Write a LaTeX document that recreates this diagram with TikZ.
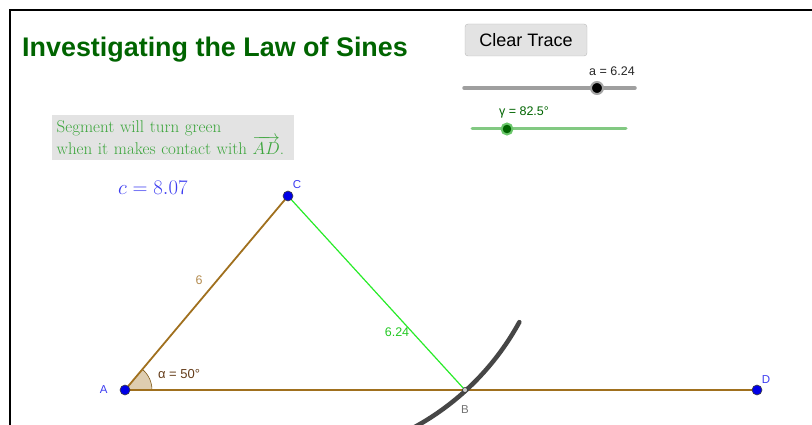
\documentclass[tikz,border=0pt]{standalone}
\usepackage{fontspec}
\newfontfamily\ggb{Liberation Sans}
\usepackage{amsmath}
\usetikzlibrary{positioning}
\definecolor{titlegreen}{RGB}{0,100,0}
\definecolor{notegreen}{RGB}{60,165,60}
\definecolor{ptblue}{RGB}{0,0,230}
\definecolor{lblblue}{RGB}{60,60,240}
\definecolor{segbrown}{RGB}{160,112,30}
\definecolor{lenbrown}{RGB}{180,140,80}
\definecolor{anglebrown}{RGB}{100,60,25}
\definecolor{seggreen}{RGB}{40,235,40}
\definecolor{tracegray}{RGB}{70,70,70}

\begin{document}
\begin{tikzpicture}[
  x=1pt, y=-1pt,
  ui/.style={font=\ggb\fontsize{#1}{#1}\selectfont},
  pt/.style={circle, fill=ptblue, draw=black!75, line width=0.6pt, inner sep=0pt, minimum size=10pt},
  ptlabel/.style={ui=11.5, text=lblblue, inner sep=1pt},
  seg/.style={draw=segbrown, line width=1.8pt},
  button/.style={draw=gray!55, fill=gray!22, rounded corners=3pt, minimum width=122pt, minimum height=32pt, ui=18}
]
\useasboundingbox (0,0) rectangle (812,425);
\draw[line width=2.5pt] (10,440) -- (10,10) -- (830,10);

\node[anchor=base west, text=titlegreen, font=\ggb\bfseries\fontsize{26.9}{30}\selectfont, inner sep=0pt] (title) at (22,57) {Investigating the Law of Sines};
\node[button] (clear) at (526,40) {Clear Trace};

\coordinate (a0) at (464,88);
\coordinate (a1) at (635,88);
\draw[gray!75, line width=3.5pt, line cap=round] (a0) -- (a1);
\node[circle, fill=black, draw=gray!70, line width=2pt, minimum size=12pt, inner sep=0pt] (aknob) at (597,88) {};
\node[ui=12.5, text=black!85] (alabel) at (612,71) {a = 6.24};

\coordinate (g0) at (472,129);
\coordinate (g1) at (626,129);
\draw[green!40!gray!70, line width=3pt, line cap=round] (g0) -- (g1);
\node[circle, fill=titlegreen, draw=green!45!gray!80, line width=2pt, minimum size=11pt, inner sep=0pt] (gknob) at (507,129) {};
\node[ui=12.5, text=titlegreen] (glabel) at (524,112) {γ = 82.5°};

\node[anchor=north west, fill=gray!22, text=notegreen, align=left, text width=233pt, font=\fontsize{17}{22}\selectfont, inner xsep=4.5pt, inner ysep=2pt, minimum height=45pt] (note) at (52,115) {Segment will turn green\\when it makes contact with $\overrightarrow{AD}$.};
\node[anchor=base west, text=lblblue, font=\fontsize{21}{24}\selectfont, inner sep=0pt] (cval) at (118,195) {$c = 8.07$};

\coordinate (A) at (125,390);
\coordinate (C) at (288,196);
\coordinate (B) at (465,390);
\coordinate (D) at (757,390);

\fill[segbrown!35!white] (A) -- ++(0:27) arc[start angle=0, end angle=-50, radius=27] -- cycle;
\draw[segbrown!80!black, line width=0.6pt] (A) ++(0:27) arc[start angle=0, end angle=-50, radius=27];
\draw[seg] (A) -- (D);
\draw[seg] (A) -- (C);
\draw[seggreen, line width=1.2pt] (C) -- (B);
\draw[tracegray, line width=4.5pt, line cap=round] (C) ++(28.6:263.5) arc[start angle=28.6, end angle=64, radius=263.5];

\node[pt] (Adot) at (A) {};
\node[pt] (Cdot) at (C) {};
\node[pt] (Ddot) at (D) {};
\node[circle, draw=black!80, fill=gray!40, line width=0.6pt, minimum size=5pt, inner sep=0pt] (Bdot) at (B) {};

\node[ptlabel, left=11pt of Adot] (Alabel) {A};
\node[ptlabel, above right=2pt and 0pt of Cdot] (Clabel) {C};
\node[ptlabel, above right=2pt and 0pt of Ddot] (Dlabel) {D};
\node[ptlabel, text=gray!90!black, below=12pt of Bdot] (Blabel) {B};
\node[ui=12.5, text=lenbrown] (AClen) at (199,280) {6};
\node[ui=12.5, text=seggreen!85!black] (CBlen) at (397,332) {6.24};
\node[ui=13, text=anglebrown] (alpha) at (179,374) {α = 50°};
\end{tikzpicture}
\end{document}
